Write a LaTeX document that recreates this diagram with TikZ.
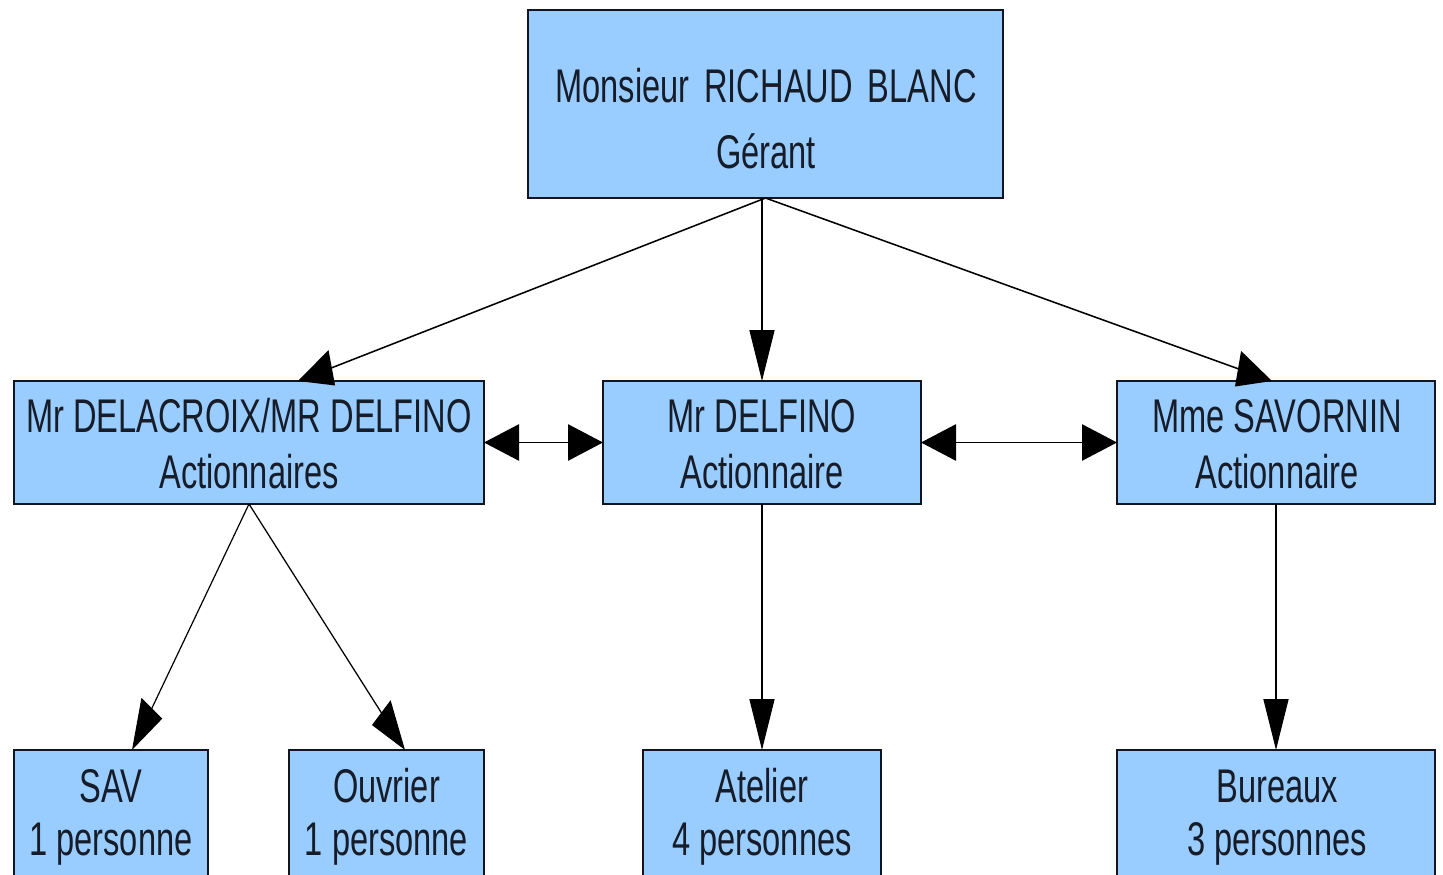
\documentclass[tikz,border=0pt]{standalone}
\usepackage{fontspec}
\setmainfont{Liberation Sans}
\usetikzlibrary{arrows.meta}
\definecolor{boxblue}{RGB}{153,204,255}
\definecolor{edgecol}{RGB}{18,20,32}
\definecolor{txtcol}{RGB}{22,28,40}
\tikzset{
  box/.style={draw=edgecol, fill=boxblue, line width=1.5pt, rectangle, inner sep=0pt, outer sep=0pt},
  topbox/.style={box, line width=2pt},
  lbl/.style={inner sep=0pt, anchor=base, text=txtcol, font=\fontsize{32.6pt}{36pt}\selectfont},
  arr/.style={draw=black, line width=1.1pt, -{Triangle[length=35pt,width=25pt]}},
  darr/.style={draw=black, line width=1.2pt, {Triangle[length=35pt,width=25pt]}-{Triangle[length=35pt,width=25pt]}}
}
\begin{document}
\begin{tikzpicture}[x=1pt,y=-1pt]
\fill[white] (0,0) rectangle (1443,875);
\useasboundingbox (0,0) rectangle (1443,875);
\begin{scope}[transform canvas={yscale=1.45}, y=-0.689655pt]
  % boxes
  \node[topbox, minimum width=475pt, minimum height=129.66pt] (top) at (765.5,104) {};
  \node[box, minimum width=470pt, minimum height=84.83pt] (L) at (249,442.5) {};
  \node[box, minimum width=318pt, minimum height=84.83pt] (C) at (762,442.5) {};
  \node[box, minimum width=318pt, minimum height=84.83pt] (R) at (1276,442.5) {};
  \node[box, minimum width=194pt, minimum height=89.66pt] (sav) at (111,815) {};
  \node[box, minimum width=195pt, minimum height=89.66pt] (ouv) at (386.5,815) {};
  \node[box, minimum width=238pt, minimum height=89.66pt] (ate) at (762,815) {};
  \node[box, minimum width=318pt, minimum height=89.66pt] (bur) at (1276,815) {};
  % labels
  \node[lbl] (t1) at (766,102) {Monsieur\hspace{6pt} RICHAUD\hspace{6pt} BLANC};
  \node[lbl] (t2) at (766,168) {Gérant};
  \node[lbl] (l1) at (249,432) {Mr DELACROIX/MR DELFINO};
  \node[lbl] (l2) at (249,488) {Actionnaires};
  \node[lbl] (c1) at (762,432) {Mr DELFINO};
  \node[lbl] (c2) at (762,488) {Actionnaire};
  \node[lbl] (r1) at (1277,432) {Mme SAVORNIN};
  \node[lbl] (r2) at (1277,488) {Actionnaire};
  \node[lbl] (s1) at (111,802) {SAV};
  \node[lbl] (s2) at (111,855) {1 personne};
  \node[lbl] (o1) at (386.5,802) {Ouvrier};
  \node[lbl] (o2) at (386.5,855) {1 personne};
  \node[lbl] (a1) at (762,802) {Atelier};
  \node[lbl] (a2) at (762,855) {4 personnes};
  \node[lbl] (b1) at (1277,802) {Bureaux};
  \node[lbl] (b2) at (1277,855) {3 personnes};
  % arrow ends
  \coordinate (lIn) at (298,381);
  \coordinate (rIn) at (1272,381);
  \coordinate (savIn) at (132,750);
  \coordinate (ouvIn) at (405,750);
  % connectors
  \draw[arr] (top.south) -- (lIn);
  \draw[arr] (top.south -| C.north) -- (C.north);
  \draw[arr] (top.south) -- (rIn);
  \draw[darr] (L.east) -- (C.west);
  \draw[darr] (C.east) -- (R.west);
  \draw[arr] (L.south) -- (savIn);
  \draw[arr] (L.south) -- (ouvIn);
  \draw[arr] (C.south) -- (ate.north);
  \draw[arr] (R.south) -- (bur.north);
\end{scope}
\end{tikzpicture}
\end{document}
